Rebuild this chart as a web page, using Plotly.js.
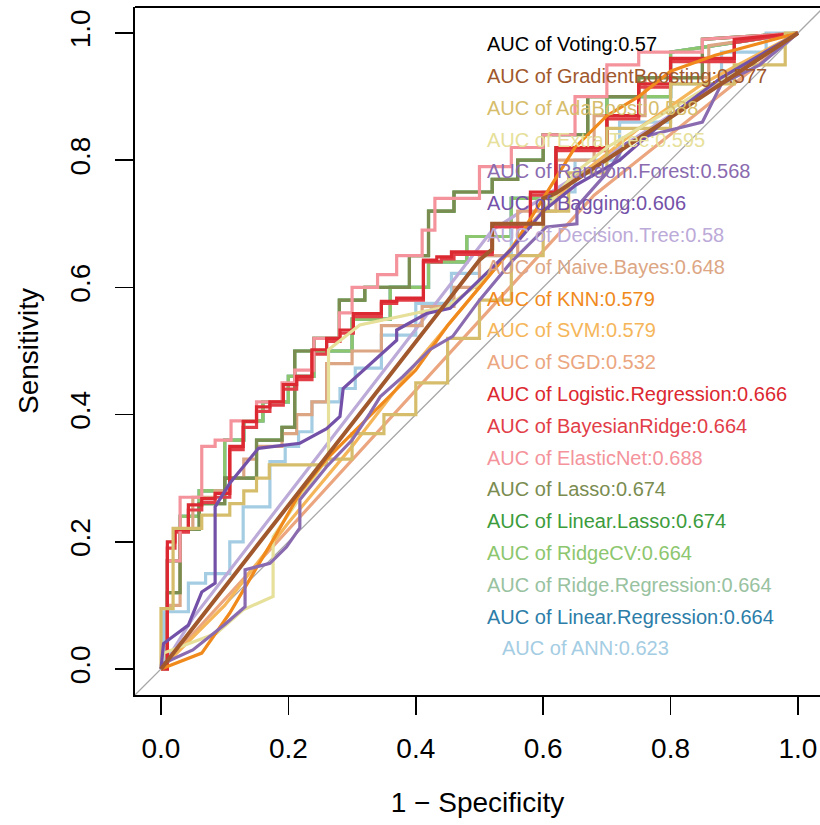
<!DOCTYPE html>
<html>
<head>
<meta charset="utf-8">
<script src="https://cdn.plot.ly/plotly-3.0.1.min.js"></script>
<style>
html,body{margin:0;padding:0;background:#fff;overflow:hidden;}
#chart{width:820px;height:825px;}
</style>
</head>
<body>
<div id="chart"></div>
<script>
// ---------- DATA ----------
const modelNames = ["Voting","GradientBoosting","AdaBoost","Extra.Tree","Random.Forest","Bagging",
  "Decision.Tree","Naive.Bayes","KNN","SVM","SGD","Logistic.Regression","BayesianRidge",
  "ElasticNet","Lasso","Linear.Lasso","RidgeCV","Ridge.Regression","Linear.Regression","ANN"];
const aucValues = ["0.57","0.577","0.588","0.595","0.568","0.606","0.58","0.648","0.579","0.579",
  "0.532","0.666","0.664","0.688","0.674","0.674","0.664","0.664","0.664","0.623"];
const modelColors = ["#000000","#A0582C","#D6BD6B","#E6E09A","#8A6BB0","#7451A8","#BCAAD8","#DCA684",
  "#F08A1C","#F5B65A","#EBA680","#DC2830","#E23E48","#F4939B","#7A8C50","#3C9C3C","#8CC66E",
  "#98C2A0","#2C7DA8","#A4CDE3"];

const votingFpr = [0,0.5,0.52,0.52,0.6,0.6,0.62,1];
const votingTpr = [0,0.643,0.66,0.70,0.70,0.74,0.748,1];

const gbFpr = [0,0.5,0.52,0.52,0.6,0.6,0.62,1];
const gbTpr = [0,0.643,0.66,0.70,0.70,0.74,0.748,1];

const adaFpr = [0,0,0.019,0.019,0.064,0.064,0.108,0.108,0.13,0.13,0.15,0.15,0.17,0.17,0.26,0.26,0.3,0.3,0.35,0.35,0.4,0.4,0.45,0.45,0.5,0.5,0.55,0.55,0.6,0.6,0.64,0.64,0.7,0.7,0.8,0.8,0.9,0.9,0.98,0.98,1];
const adaTpr = [0,0.095,0.095,0.221,0.221,0.242,0.242,0.26,0.26,0.28,0.28,0.3,0.3,0.321,0.321,0.33,0.33,0.37,0.37,0.4,0.4,0.45,0.45,0.52,0.52,0.58,0.58,0.65,0.65,0.72,0.72,0.78,0.78,0.85,0.85,0.92,0.92,0.95,0.95,1,1];

const extraFpr = [0,0.004,0.087,0.129,0.176,0.176,0.263,0.263,0.312,0.349,0.449,0.5,0.55,0.6,0.65,0.7,0.8,0.9,1];
const extraTpr = [0,0.025,0.056,0.093,0.114,0.208,0.334,0.502,0.541,0.549,0.57,0.606,0.66,0.72,0.78,0.82,0.88,0.94,1];

const rfFpr = [0,0.004,0.05,0.1,0.132,0.132,0.171,0.197,0.218,0.218,0.26,0.3,0.328,0.344,0.38,0.422,0.458,0.5,0.55,0.605,0.653,0.653,0.7,0.73,0.77,0.85,0.88,0.94,1];
const rfTpr = [0,0.009,0.03,0.07,0.098,0.156,0.166,0.192,0.222,0.266,0.318,0.36,0.402,0.428,0.46,0.502,0.523,0.58,0.64,0.695,0.70,0.727,0.78,0.826,0.84,0.86,0.92,0.95,1];

const bagFpr = [0,0.004,0.043,0.064,0.085,0.085,0.108,0.153,0.218,0.26,0.281,0.286,0.37,0.37,0.417,0.454,0.5,0.55,0.6,0.65,0.72,0.8,0.88,0.95,1];
const bagTpr = [0,0.04,0.069,0.121,0.135,0.255,0.292,0.347,0.355,0.378,0.397,0.441,0.517,0.533,0.559,0.567,0.612,0.66,0.72,0.76,0.80,0.87,0.93,0.97,1];

const dtFpr = [0,0.05,0.52,1];
const dtTpr = [0,0.08,0.69,1];

const nbFpr = [0,0.01,0.01,0.03,0.03,0.05,0.05,0.085,0.085,0.108,0.108,0.13,0.13,0.15,0.15,0.19,0.19,0.213,0.213,0.237,0.237,0.26,0.26,0.3,0.3,0.346,0.346,0.41,0.41,0.46,0.46,0.5,0.5,0.56,0.56,0.62,0.62,0.68,0.68,0.76,0.76,0.86,0.86,1];
const nbTpr = [0,0,0.1,0.1,0.22,0.22,0.27,0.27,0.28,0.28,0.3,0.3,0.33,0.33,0.35,0.35,0.37,0.37,0.4,0.4,0.42,0.42,0.48,0.48,0.5,0.5,0.54,0.54,0.57,0.57,0.6,0.6,0.65,0.65,0.72,0.72,0.8,0.8,0.87,0.87,0.93,0.93,0.98,1];

const knnFpr = [0,0.064,0.108,0.176,0.22,0.26,0.3,0.35,0.4,0.45,0.5,0.55,0.6,0.65,0.7,0.75,0.8,0.87,1];
const knnTpr = [0,0.025,0.088,0.203,0.28,0.33,0.37,0.42,0.47,0.54,0.6,0.66,0.74,0.82,0.87,0.9,0.94,0.965,1];

const svmFpr = [0,0.1,0.2,0.3,0.4,0.5,0.58,0.65,0.75,0.85,1];
const svmTpr = [0,0.1,0.23,0.35,0.48,0.6,0.7,0.77,0.85,0.92,1];

const sgdFpr = [0,0.68,1];
const sgdTpr = [0,0.745,1];

const logFpr = [0,0.01,0.01,0.022,0.022,0.043,0.043,0.064,0.064,0.085,0.085,0.108,0.108,0.129,0.129,0.15,0.15,0.171,0.171,0.192,0.192,0.213,0.213,0.237,0.237,0.26,0.26,0.281,0.281,0.302,0.302,0.346,0.346,0.37,0.37,0.412,0.412,0.433,0.433,0.456,0.456,0.52,0.52,0.58,0.58,0.62,0.62,0.7,0.7,0.75,0.75,0.8,0.8,0.9,0.9,1];
const logTpr = [0,0,0.2,0.2,0.219,0.219,0.258,0.258,0.268,0.268,0.276,0.276,0.35,0.35,0.389,0.389,0.412,0.412,0.42,0.42,0.447,0.447,0.46,0.46,0.502,0.502,0.52,0.52,0.533,0.533,0.559,0.559,0.578,0.578,0.583,0.583,0.643,0.643,0.648,0.648,0.656,0.656,0.70,0.70,0.75,0.75,0.82,0.82,0.87,0.87,0.92,0.92,0.96,0.96,0.99,1];

const bayesFpr = [0,0.01,0.01,0.022,0.022,0.043,0.043,0.064,0.064,0.085,0.085,0.108,0.108,0.129,0.129,0.15,0.15,0.171,0.171,0.192,0.192,0.213,0.213,0.237,0.237,0.26,0.26,0.281,0.281,0.302,0.302,0.346,0.346,0.37,0.37,0.412,0.412,0.44,0.44,0.46,0.46,0.52,0.52,0.58,0.58,0.62,0.62,0.7,0.7,0.75,0.75,0.8,0.8,0.9,0.9,1];
const bayesTpr = [0,0,0.19,0.19,0.215,0.215,0.25,0.25,0.262,0.262,0.27,0.27,0.345,0.345,0.38,0.38,0.405,0.405,0.415,0.415,0.44,0.44,0.455,0.455,0.495,0.495,0.515,0.515,0.528,0.528,0.554,0.554,0.575,0.575,0.58,0.58,0.64,0.64,0.645,0.645,0.652,0.652,0.695,0.695,0.745,0.745,0.815,0.815,0.865,0.865,0.915,0.915,0.955,0.955,0.985,1];

const ridgeFpr = [0,0.01,0.01,0.03,0.03,0.06,0.06,0.1,0.1,0.13,0.13,0.16,0.16,0.2,0.2,0.24,0.24,0.3,0.3,0.36,0.36,0.42,0.42,0.48,0.48,0.55,0.55,0.62,0.62,0.7,0.7,0.8,0.8,1];
const ridgeTpr = [0,0,0.17,0.17,0.24,0.24,0.28,0.28,0.36,0.36,0.39,0.39,0.42,0.42,0.46,0.46,0.5,0.5,0.55,0.55,0.6,0.6,0.64,0.64,0.68,0.68,0.74,0.74,0.82,0.82,0.9,0.9,0.97,1];

const enetFpr = [0,0.01,0.01,0.03,0.03,0.064,0.064,0.085,0.085,0.11,0.11,0.15,0.15,0.19,0.19,0.21,0.21,0.24,0.24,0.28,0.28,0.3,0.3,0.34,0.34,0.37,0.37,0.41,0.41,0.43,0.43,0.5,0.5,0.55,0.55,0.6,0.6,0.65,0.65,0.7,0.7,0.75,0.75,0.85,0.85,1];
const enetTpr = [0,0,0.17,0.17,0.27,0.27,0.35,0.35,0.36,0.36,0.39,0.39,0.42,0.42,0.45,0.45,0.47,0.47,0.52,0.52,0.56,0.56,0.6,0.6,0.62,0.62,0.65,0.65,0.69,0.69,0.74,0.74,0.79,0.79,0.82,0.82,0.84,0.84,0.9,0.9,0.95,0.95,0.97,0.97,0.99,1];

const lassoFpr = [0,0.01,0.01,0.03,0.03,0.06,0.06,0.1,0.1,0.15,0.15,0.19,0.19,0.21,0.21,0.24,0.24,0.28,0.28,0.32,0.32,0.39,0.39,0.42,0.42,0.46,0.46,0.52,0.52,0.56,0.56,0.6,0.6,0.67,0.67,0.75,0.75,0.85,0.85,1];
const lassoTpr = [0,0,0.12,0.12,0.22,0.22,0.26,0.26,0.3,0.3,0.36,0.36,0.38,0.38,0.5,0.5,0.52,0.52,0.58,0.58,0.6,0.6,0.65,0.65,0.72,0.72,0.75,0.75,0.77,0.77,0.8,0.8,0.84,0.84,0.9,0.9,0.93,0.93,0.99,1];

const annFpr = [0,0.004,0.004,0.043,0.043,0.07,0.07,0.108,0.108,0.129,0.129,0.171,0.171,0.195,0.195,0.216,0.216,0.237,0.237,0.281,0.281,0.305,0.305,0.346,0.346,0.4,0.4,0.456,0.456,0.5,0.5,0.55,0.55,0.6,0.6,0.65,0.65,0.72,0.72,0.8,0.8,0.88,0.88,0.95,0.95,1];
const annTpr = [0,0,0.09,0.09,0.135,0.135,0.15,0.15,0.2,0.2,0.255,0.255,0.326,0.326,0.35,0.35,0.373,0.373,0.42,0.42,0.441,0.441,0.473,0.473,0.525,0.525,0.575,0.575,0.622,0.622,0.65,0.65,0.7,0.7,0.75,0.75,0.8,0.8,0.86,0.86,0.92,0.92,0.97,0.97,1,1];

const tickVals = [0,0.2,0.4,0.6,0.8,1.0];
const tickText = ["0.0","0.2","0.4","0.6","0.8","1.0"];

// ---------- BUILD ----------
const curves = {
  "Voting":[votingFpr,votingTpr], "GradientBoosting":[gbFpr,gbTpr], "AdaBoost":[adaFpr,adaTpr],
  "Extra.Tree":[extraFpr,extraTpr], "Random.Forest":[rfFpr,rfTpr], "Bagging":[bagFpr,bagTpr],
  "Decision.Tree":[dtFpr,dtTpr], "Naive.Bayes":[nbFpr,nbTpr], "KNN":[knnFpr,knnTpr],
  "SVM":[svmFpr,svmTpr], "SGD":[sgdFpr,sgdTpr], "Logistic.Regression":[logFpr,logTpr],
  "BayesianRidge":[bayesFpr,bayesTpr], "ElasticNet":[enetFpr,enetTpr], "Lasso":[lassoFpr,lassoTpr],
  "Linear.Lasso":[lassoFpr,lassoTpr], "RidgeCV":[ridgeFpr,ridgeTpr], "Ridge.Regression":[ridgeFpr,ridgeTpr],
  "Linear.Regression":[ridgeFpr,ridgeTpr], "ANN":[annFpr,annTpr]
};
const drawOrder = ["Voting","Linear.Regression","Ridge.Regression","RidgeCV","Linear.Lasso","ANN",
  "Decision.Tree","SGD","SVM","Naive.Bayes","Lasso","BayesianRidge","ElasticNet","Logistic.Regression",
  "AdaBoost","Extra.Tree","KNN","Random.Forest","Bagging","GradientBoosting"];

const traces = drawOrder.map(name => {
  const i = modelNames.indexOf(name);
  const w = name === "GradientBoosting" ? 4 : (name === "Voting" ? 2 : 3.2);
  return {x: curves[name][0], y: curves[name][1], type:"scatter", mode:"lines",
    line:{color: modelColors[i], width:w}, hoverinfo:"skip", showlegend:false};
});

const xr = [-0.0408, 1.0346];
const yr = [-0.0409, 1.0409];
const annotations = modelNames.map((name, i) => ({
  xref:"paper", yref:"paper", x: name==="ANN" ? 0.533 : 0.511,
  y: 0.946 - i*0.04622, xanchor:"left", yanchor:"middle", showarrow:false,
  text: "AUC of " + name + ":" + aucValues[i],
  font:{family:"Liberation Sans, Arial, sans-serif", size:20, color: modelColors[i]}
}));

const layout = {
  width:820, height:825,
  margin:{l:135, r:0, t:7, b:130},
  paper_bgcolor:"#fff", plot_bgcolor:"#fff",
  font:{family:"Liberation Sans, Arial, sans-serif", color:"#000"},
  xaxis:{range:xr, showgrid:false, zeroline:false, showline:true, linecolor:"#000", linewidth:2,
    ticks:"outside", ticklen:18, tickwidth:1.5, tickcolor:"#000", tickvals:tickVals, ticktext:tickText,
    tickfont:{size:28}, ticklabelstandoff:9,
    title:{text:"1 − Specificity", font:{size:28}, standoff:30}},
  yaxis:{range:yr, showgrid:false, zeroline:false, showline:true, linecolor:"#000", linewidth:2,
    ticks:"outside", ticklen:18, tickwidth:1.5, tickcolor:"#000", tickvals:tickVals, ticktext:tickText,
    tickangle:-90, tickfont:{size:28}, ticklabelstandoff:14,
    title:{text:"Sensitivity", font:{size:28}, standoff:18}},
  shapes:[
    {type:"line", xref:"x", yref:"y", x0:xr[0], y0:xr[0], x1:yr[1], y1:yr[1], layer:"below",
     line:{color:"#A8A8A8", width:1.3}},
    {type:"line", xref:"paper", yref:"paper", x0:0, y0:1, x1:1, y1:1, line:{color:"#000", width:2}}
  ],
  annotations: annotations
};
Plotly.newPlot("chart", traces, layout, {staticPlot:true, displayModeBar:false});
</script>
</body>
</html>
